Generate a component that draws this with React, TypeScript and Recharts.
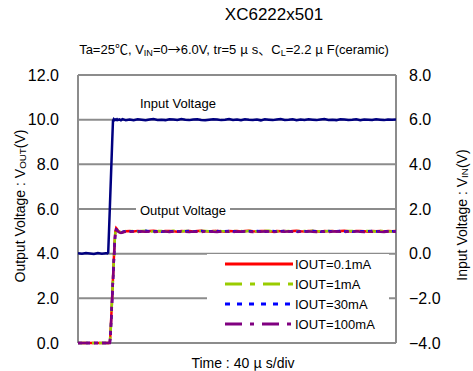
import { LineChart, Line, XAxis, YAxis, CartesianGrid, Legend } from 'recharts';

const FONT = '"Liberation Sans", Arial, "Noto Sans CJK JP", sans-serif';
const CJK = '"Noto Sans CJK JP", sans-serif';

// time in µs (40 µs/div)
const TIME_US = [
    0, 5, 10, 15, 20, 25, 30, 35,
    36, 37, 38, 39, 40, 41, 42, 43, 44, 45, 46, 47, 48, 49, 50,
    52, 54, 56, 58, 60,
    65, 70, 75, 80, 85, 90, 95, 100, 105, 110,
    115, 120, 125, 130, 135, 140, 145, 150, 155, 160,
    165, 170, 175, 180, 185, 190, 195, 200, 205, 210,
    215, 220, 225, 230, 235, 240, 245, 250, 255, 260,
    265, 270, 275, 280, 285, 290, 295, 300, 305, 310,
    315, 320, 325, 330, 335, 340, 345, 350, 355, 360,
    365, 370, 375, 380, 385, 390, 395, 400,
];

// input voltage VIN (right axis)
const VIN = [
    0.02, 0.00, 0.03, 0.01, -0.01, 0.03, 0.00, 0.02,
    0.02, 0.01, 0.05, 1.0, 2.0, 3.0, 4.0, 5.0, 5.95, 6.02, 5.98, 6.01, 5.99, 6.02, 5.98,
    6.01, 5.97, 6.02, 6.0, 5.98,
    6.01, 5.98, 6.02, 6.00, 5.97, 6.01, 6.03, 5.99, 6.00, 5.98,
    6.02, 6.01, 5.99, 6.03, 6.00, 5.98, 6.01, 6.02, 5.99, 5.97,
    6.00, 6.02, 6.01, 5.98, 6.00, 6.03, 5.99, 6.01, 5.98, 6.02,
    6.00, 5.99, 6.01, 5.97, 6.02, 6.00, 5.98, 6.01, 6.03, 5.99,
    6.00, 6.02, 5.98, 6.01, 5.99, 6.02, 6.00, 5.98, 6.01, 6.03,
    5.99, 6.00, 5.98, 6.02, 6.01, 5.99, 6.00, 6.02, 5.98, 6.01,
    6.00, 5.99, 6.02, 6.00, 5.98, 6.01, 6.00, 6.01,
];

// output voltage VOUT (left axis)
const OUT_01 = [
    0, 0, 0, 0, 0, 0, 0, 0,
    0, 0, 0, 0, 0.02, 0.5, 1.3, 2.1, 2.9, 3.7, 4.5, 5.0, 5.14, 5.1, 5.04,
    4.98, 4.96, 4.97, 4.99, 5.0,
    5.01, 4.99, 5.02, 5.00, 4.98, 5.01, 5.03, 5.00, 4.99, 5.01,
    5.02, 5.00, 4.98, 5.01, 5.00, 5.02, 4.99, 5.01, 5.03, 5.00,
    4.99, 5.01, 5.02, 5.00, 4.98, 5.01, 5.00, 5.02, 4.99, 5.01,
    5.03, 5.00, 4.99, 5.01, 5.02, 5.00, 4.98, 5.01, 5.00, 5.02,
    4.99, 5.01, 5.03, 5.00, 4.99, 5.01, 5.02, 5.00, 4.98, 5.01,
    5.00, 5.02, 4.99, 5.01, 5.03, 5.00, 4.99, 5.01, 5.02, 5.00,
    4.98, 5.01, 5.00, 5.02, 4.99, 5.01, 5.00, 5.01,
];

const OUT_1 = [
    0, 0, 0, 0, 0, 0, 0, 0,
    0, 0, 0, 0, 0.01, 0.45, 1.25, 2.05, 2.85, 3.65, 4.45, 4.98, 5.1, 5.08, 5.03,
    4.97, 4.95, 4.96, 4.98, 5.01,
    5.00, 5.02, 4.99, 5.01, 5.03, 4.99, 5.00, 5.02, 5.01, 4.98,
    5.01, 5.03, 5.00, 4.99, 5.02, 5.01, 5.00, 4.98, 5.02, 5.01,
    5.00, 4.99, 5.03, 5.01, 5.00, 4.98, 5.02, 5.00, 5.01, 4.99,
    5.02, 5.01, 5.00, 4.98, 5.01, 5.03, 5.00, 4.99, 5.02, 5.00,
    5.01, 4.98, 5.00, 5.02, 5.01, 4.99, 5.03, 5.01, 5.00, 4.99,
    5.02, 5.00, 5.01, 4.98, 5.00, 5.02, 5.01, 4.99, 5.00, 5.02,
    5.01, 5.00, 4.99, 5.01, 5.02, 5.00, 4.99, 5.00,
];

const OUT_30 = [
    0, 0, 0, 0, 0, 0, 0, 0,
    0, 0, 0, 0, 0, 0.4, 1.2, 2.0, 2.8, 3.6, 4.4, 4.95, 5.08, 5.06, 5.02,
    4.96, 4.95, 4.97, 4.99, 5.0,
    4.99, 5.01, 5.00, 4.98, 5.02, 5.00, 4.99, 5.01, 4.98, 5.00,
    4.99, 5.01, 5.00, 4.98, 5.00, 5.01, 4.99, 5.00, 5.02, 4.99,
    5.00, 4.98, 5.01, 4.99, 5.00, 5.02, 4.99, 5.00, 4.98, 5.01,
    5.00, 4.99, 5.01, 5.00, 4.98, 5.00, 5.01, 4.99, 5.00, 5.02,
    4.99, 5.00, 4.98, 5.01, 5.00, 4.99, 5.01, 5.00, 4.98, 5.00,
    5.01, 4.99, 5.00, 5.02, 4.99, 5.00, 4.98, 5.01, 5.00, 4.99,
    5.00, 5.01, 4.99, 5.00, 4.98, 5.01, 5.00, 4.99,
];

const OUT_100 = [
    0, 0, 0, 0, 0, 0, 0, 0,
    0, 0, 0, 0, 0, 0.4, 1.2, 2.0, 2.8, 3.6, 4.4, 4.95, 5.06, 5.04, 5.0,
    4.95, 4.93, 4.95, 4.97, 4.98,
    4.98, 4.99, 4.97, 5.00, 4.98, 4.99, 4.97, 4.98, 5.00, 4.99,
    4.97, 4.99, 4.98, 5.00, 4.98, 4.97, 4.99, 4.98, 4.97, 5.00,
    4.99, 4.98, 4.97, 4.99, 5.00, 4.98, 4.97, 4.99, 4.98, 5.00,
    4.98, 4.97, 4.99, 4.98, 5.00, 4.99, 4.97, 4.98, 4.99, 4.98,
    5.00, 4.98, 4.97, 4.99, 4.98, 5.00, 4.98, 4.97, 4.99, 4.98,
    4.97, 4.99, 5.00, 4.98, 4.97, 4.99, 4.98, 5.00, 4.98, 4.97,
    4.99, 4.98, 5.00, 4.98, 4.97, 4.99, 4.98, 4.99,
];

const X_TICKS = [0, 40, 80, 120, 160, 200, 240, 280, 320, 360, 400];
const OUT_TICKS = [0, 2, 4, 6, 8, 10, 12];
const IN_TICKS = [-4, -2, 0, 2, 4, 6, 8];

const SERIES = [
    { key: 'out01', name: 'IOUT=0.1mA', color: '#ff0000', dash: undefined, legendDash: undefined },
    { key: 'out1', name: 'IOUT=1mA', color: '#99cc00', dash: '10 4 3 4', legendDash: '17 8 5 8' },
    { key: 'out30', name: 'IOUT=30mA', color: '#0000ff', dash: '4 4', legendDash: '5 7' },
    { key: 'out100', name: 'IOUT=100mA', color: '#800080', dash: '12 4 4 4', legendDash: '17 8 4 8' },
];

const data = TIME_US.map((t, i) => ({
    t,
    vin: VIN[i],
    out01: OUT_01[i],
    out1: OUT_1[i],
    out30: OUT_30[i],
    out100: OUT_100[i],
}));

const fmt = (v: number) => v.toFixed(1).replace('-', '\u2212');

function LegendBox() {
    return (
        <div style={{ position: 'relative', width: '100%', height: '100%', background: '#fff', fontFamily: FONT }}>
            {SERIES.map((s, i) => (
                <div
                    key={s.key}
                    style={{ position: 'absolute', left: 18, top: 2 + i * 20, height: 16, display: 'flex', alignItems: 'center' }}
                >
                    <svg width={68} height={6}>
                        <line x1={0} y1={3} x2={68} y2={3} stroke={s.color} strokeWidth={3} strokeDasharray={s.legendDash} />
                    </svg>
                    <span style={{ fontSize: 13, marginLeft: 2, color: '#000' }}>{s.name}</span>
                </div>
            ))}
        </div>
    );
}

const sub = { fontSize: '0.7em', verticalAlign: '-0.2em' } as const;
const J = ({ c }: { c: string }) => <span style={{ fontFamily: CJK }}>{c}</span>;

export default function App() {
    const tick = { fontSize: 16, fill: '#000', fontFamily: FONT };
    return (
        <div style={{ position: 'absolute', left: 0, top: 0, width: 473, height: 371, background: '#fff', fontFamily: FONT, color: '#000' }}>
            <LineChart width={473} height={371} data={data} margin={{ top: 75, right: 0, bottom: 0, left: 0 }}>
                <CartesianGrid yAxisId="out" stroke="#8c8c8c" strokeWidth={2} />
                <XAxis dataKey="t" type="number" domain={[0, 400]} ticks={X_TICKS} tick={false} axisLine={false} tickLine={false} height={28} />
                <YAxis
                    yAxisId="out"
                    domain={[0, 12]}
                    ticks={OUT_TICKS}
                    tickFormatter={fmt}
                    tick={tick}
                    width={78}
                    axisLine={false}
                    tickLine={false}
                    tickSize={0}
                    tickMargin={19}
                />
                <YAxis
                    yAxisId="in"
                    orientation="right"
                    domain={[-4, 8]}
                    ticks={IN_TICKS}
                    tickFormatter={fmt}
                    tick={tick}
                    width={77}
                    axisLine={false}
                    tickLine={false}
                    tickSize={0}
                    tickMargin={13}
                />
                <Line yAxisId="in" dataKey="vin" stroke="#000080" strokeWidth={2.5} dot={false} isAnimationActive={false} />
                {SERIES.map((s) => (
                    <Line
                        key={s.key}
                        yAxisId="out"
                        dataKey={s.key}
                        name={s.name}
                        stroke={s.color}
                        strokeWidth={2.5}
                        strokeDasharray={s.dash}
                        dot={false}
                        isAnimationActive={false}
                    />
                ))}
                <Legend
                    layout="vertical"
                    align="center"
                    verticalAlign="middle"
                    content={() => <LegendBox />}
                    wrapperStyle={{ left: 207, top: 254, width: 182, height: 83 }}
                />
            </LineChart>

            <div style={{ position: 'absolute', left: 74, width: 400, top: 5, textAlign: 'center', fontSize: 17, lineHeight: '20px' }}>
                XC6222x501
            </div>
            <div style={{ position: 'absolute', left: 34, width: 400, top: 40, textAlign: 'center', fontSize: 13, lineHeight: '18px', whiteSpace: 'nowrap' }}>
                Ta=25<J c="℃" />, V<sub style={sub}>IN</sub>=0<J c="→" />6.0V, tr=5 <J c="μ" /> s<J c="、" />C<sub style={sub}>L</sub>=2.2 <J c="μ" /> F(ceramic)
            </div>

            <div style={{ position: 'absolute', left: 138, top: 95, background: '#fff', fontSize: 13, lineHeight: '18px', padding: '0 2px' }}>
                Input Voltage
            </div>
            <div style={{ position: 'absolute', left: 136, top: 202, background: '#fff', fontSize: 13, lineHeight: '18px', padding: '0 4px' }}>
                Output Voltage
            </div>

            <div
                style={{
                    position: 'absolute', left: 20, top: 206, width: 300, textAlign: 'center', fontSize: 14, whiteSpace: 'nowrap',
                    transform: 'translate(-50%, -50%) rotate(-90deg)',
                }}
            >
                Output Voltage : V<sub style={sub}>OUT</sub>(V)
            </div>
            <div
                style={{
                    position: 'absolute', left: 462, top: 215, width: 300, textAlign: 'center', fontSize: 14, whiteSpace: 'nowrap',
                    transform: 'translate(-50%, -50%) rotate(-90deg)',
                }}
            >
                Input Voltage : V<sub style={sub}>IN</sub>(V)
            </div>
            <div style={{ position: 'absolute', left: 43, width: 400, top: 353, textAlign: 'center', fontSize: 14, lineHeight: '18px' }}>
                Time : 40 <J c="μ" /> s/div
            </div>
        </div>
    );
}
